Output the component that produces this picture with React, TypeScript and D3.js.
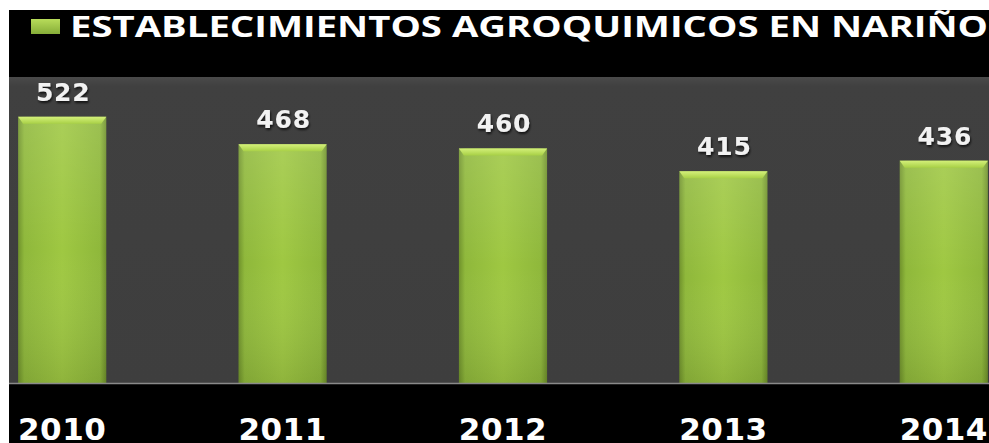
import React from "react";
import * as d3 from "d3";

const years = ["2010", "2011", "2012", "2013", "2014"];
const values = [522, 468, 460, 415, 436];
const seriesName = "ESTABLECIMIENTOS AGROQUIMICOS EN NARIÑO";

const W = 989;
const H = 443;

export default function App() {
  const x = d3
    .scaleBand<string>()
    .domain(years)
    .range([-48, 1054])
    .paddingInner(0.6)
    .paddingOuter(0.3);
  const y = d3.scaleLinear().domain([0, 600]).range([383, 77]);
  const bw = x.bandwidth();

  return (
    <svg
      width={W}
      height={H}
      style={{ position: "absolute", left: 0, top: 0, background: "#fff" }}
    >
      <defs>
        <linearGradient id="barH" x1="0" x2="1" y1="0" y2="0">
          <stop offset="0" stopColor="#6f922b" />
          <stop offset="0.07" stopColor="#8fb83b" />
          <stop offset="0.5" stopColor="#9fc842" />
          <stop offset="0.93" stopColor="#8fb83b" />
          <stop offset="1" stopColor="#6d8f2a" />
        </linearGradient>
        <linearGradient id="barV" x1="0" x2="0" y1="0" y2="1">
          <stop offset="0" stopColor="#ffffff" stopOpacity="0.12" />
          <stop offset="0.5" stopColor="#ffffff" stopOpacity="0.0" />
          <stop offset="1" stopColor="#000000" stopOpacity="0.1" />
        </linearGradient>
        <linearGradient id="bevel" x1="0" x2="0" y1="0" y2="1">
          <stop offset="0" stopColor="#d4f07a" />
          <stop offset="1" stopColor="#a8d046" />
        </linearGradient>
        <linearGradient id="plotBg" x1="0" x2="0" y1="0" y2="1">
          <stop offset="0" stopColor="#4a4a4a" />
          <stop offset="0.03" stopColor="#404040" />
          <stop offset="1" stopColor="#3e3e3e" />
        </linearGradient>
        <linearGradient id="legendG" x1="0" x2="0" y1="0" y2="1">
          <stop offset="0" stopColor="#b8dc5a" />
          <stop offset="1" stopColor="#86ad38" />
        </linearGradient>
        <filter id="shadow" x="-20%" y="-20%" width="140%" height="140%">
          <feDropShadow dx="1" dy="2" stdDeviation="1.2" floodColor="#000" floodOpacity="0.7" />
        </filter>
      </defs>

      {/* black background */}
      <rect x={9} y={10} width={W - 9} height={H - 10} fill="#000" />
      {/* plot area */}
      <rect x={9} y={y(600)} width={W - 9} height={y(0) - y(600)} fill="url(#plotBg)" />

      {/* bars */}
      {values.map((v, i) => {
        const bx = x(years[i])!;
        const by = y(v);
        const bh = y(0) - by;
        return (
          <g key={years[i]}>
            <rect x={bx} y={by} width={bw} height={bh} fill="url(#barH)" />
            <rect x={bx} y={by} width={bw} height={bh} fill="url(#barV)" />
            <path
              d={`M${bx},${by} L${bx + bw},${by} L${bx + bw - 5},${by + 7} L${bx + 5},${by + 7} Z`}
              fill="url(#bevel)"
            />
          </g>
        );
      })}

      {/* axis line */}
      <line x1={9} x2={W} y1={y(0) + 0.5} y2={y(0) + 0.5} stroke="#8a8a8a" strokeWidth={1.5} />

      {/* value labels */}
      {values.map((v, i) => (
        <text
          key={"v" + i}
          x={x(years[i])! + bw / 2 + 1}
          y={y(v) - 16}
          textAnchor="middle"
          fontFamily="DejaVu Sans"
          fontWeight="bold"
          fontSize={25}
          letterSpacing={0.8}
          fill="#f2f2f2"
          filter="url(#shadow)"
        >
          {v}
        </text>
      ))}

      {/* year labels */}
      {years.map((yr) => (
        <text
          key={yr}
          x={x(yr)! + bw / 2}
          y={440}
          textAnchor="middle"
          fontFamily="DejaVu Sans"
          fontWeight="bold"
          fontSize={31}
          letterSpacing={0.5}
          fill="#ffffff"
        >
          {yr}
        </text>
      ))}

      {/* legend */}
      <rect x={31} y={19} width={29} height={15} fill="url(#legendG)" />
      <text
        x={70}
        y={37}
        fontFamily="Open Sans"
        fontWeight="bold"
        fontSize={28}
        fill="#ffffff"
        textLength={918}
        lengthAdjust="spacingAndGlyphs"
      >
        {seriesName}
      </text>
    </svg>
  );
}
